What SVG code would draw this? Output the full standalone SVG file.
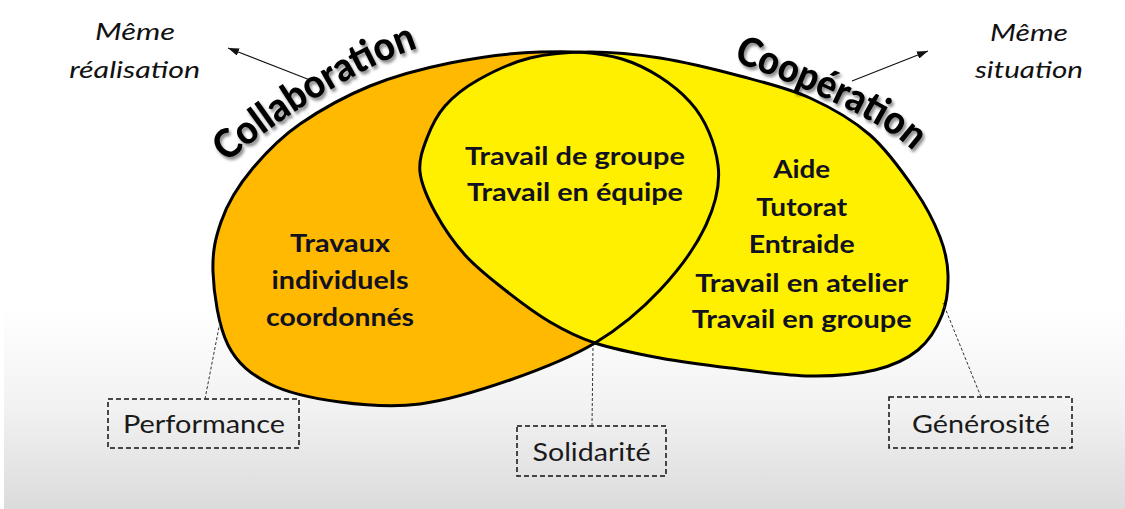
<svg xmlns="http://www.w3.org/2000/svg" xmlns:xlink="http://www.w3.org/1999/xlink" width="1125" height="509" viewBox="0 0 1125 509">
<defs>
<linearGradient id="bg" x1="0" y1="0" x2="0" y2="509" gradientUnits="userSpaceOnUse">
<stop offset="0" stop-color="#ffffff"/>
<stop offset="0.6" stop-color="#ffffff"/>
<stop offset="0.8" stop-color="#f2f2f2"/>
<stop offset="1" stop-color="#dbdbdb"/>
</linearGradient>
<filter id="shadow" x="-20%" y="-20%" width="140%" height="140%">
<feDropShadow dx="2" dy="3" stdDeviation="1.6" flood-color="#000" flood-opacity="0.45"/>
</filter>
<marker id="arr" viewBox="0 0 10 7" refX="10" refY="3.5" markerWidth="11" markerHeight="7.7" markerUnits="userSpaceOnUse" orient="auto">
<path d="M0,0 L10,3.5 L0,7 z" fill="#111"/>
</marker>
<path id="oPath" d="M213,272 C212.3,251 215.5,238 221,222 C227.5,203 239.5,184 253,168 C266.5,152 280.8,137.2 300,124 C319.2,110.8 345,96.2 370,86 C395,75.8 421.7,68.7 450,63 C478.3,57.3 511.7,52.8 540,52 C568.3,51.2 596,51 622,59 C648,67 673.7,84.2 690,102 C706.3,119.8 715.3,144.5 718,165 C720.7,185.5 715.7,204.2 706,225 C696.3,245.8 678.5,270.3 660,290 C641.5,309.7 620,328 595,343 C570,358 539.2,369.8 510,380 C480.8,390.2 448.3,400.3 420,404 C391.7,407.7 365,405.3 340,402 C315,398.7 288.7,393.5 270,384 C251.3,374.5 237.5,364 228,345 C218.5,326 213.7,293 213,272 Z"/>
<path id="yPath" d="M420,172 C418.67,159.67 422.83,149 427,138 C431.17,127 436.5,115.67 445,106 C453.5,96.33 463.83,88 478,80 C492.17,72 511.33,62.67 530,58 C548.67,53.33 568.33,52 590,52 C611.67,52 635,54 660,58 C685,62 715,69.33 740,76 C765,82.67 788.33,88.17 810,98 C831.67,107.83 852.5,119.67 870,135 C887.5,150.33 903.33,173 915,190 C926.67,207 934.5,222.83 940,237 C945.5,251.17 947.67,262 948,275 C948.33,288 947,302.5 942,315 C937,327.5 929.17,340.83 918,350 C906.83,359.17 893,365.67 875,370 C857,374.33 834.17,376.33 810,376 C785.83,375.67 755,371 730,368 C705,365 682.5,362.17 660,358 C637.5,353.83 613.33,349 595,343 C576.67,337 565,330.83 550,322 C535,313.17 519.17,301.17 505,290 C490.83,278.83 476.67,268 465,255 C453.33,242 442.5,225.83 435,212 C427.5,198.17 421.33,184.33 420,172 Z"/>
<path id="pColl" d="M227,163 C271.6,122.9 361.4,66.1 415,49"/>
<path id="pCoop" d="M733,61 Q875,113.5 913,151"/>
</defs>
<style>
.fill-o { fill: #FFB900; }
.fill-y { fill: #FFF000; }
.outline { fill: none; stroke: #000; stroke-width: 3; stroke-linejoin: round; }
.big { font-family: Lato, "Liberation Sans", sans-serif; font-weight: 700; font-size: 24px; fill: #111122; text-anchor: middle; }
.title { font-family: Lato, "Liberation Sans", sans-serif; font-weight: 900; font-size: 40px; fill: #000; filter: url(#shadow); }
.note { font-family: Lato, "Liberation Sans", sans-serif; font-style: italic; font-size: 23px; fill: #111; text-anchor: middle; }
.lbl { font-family: Lato, "Liberation Sans", sans-serif; font-size: 25px; fill: #1a1a1a; text-anchor: middle; }
.box { fill: none; stroke: #111; stroke-width: 1.5; stroke-dasharray: 5 3; }
.lead { fill: none; stroke: #333; stroke-width: 1; stroke-dasharray: 3 2; }
.arrow { fill: none; stroke: #111; stroke-width: 1.2; marker-end: url(#arr); }
</style>
<rect x="0" y="0" width="1125" height="509" fill="url(#bg)"/>
<rect x="0" y="0" width="4" height="509" fill="#ffffff"/>

<g id="collaboration">
<use xlink:href="#oPath" class="fill-o"/>
</g>
<g id="cooperation">
<use xlink:href="#yPath" class="fill-y"/>
</g>
<g id="outlines">
<use xlink:href="#oPath" class="outline"/>
<use xlink:href="#yPath" class="outline"/>
</g>

<g id="collaboration-label">
<text class="title"><textPath xlink:href="#pColl" startOffset="0" textLength="224" lengthAdjust="spacingAndGlyphs">Collaboration</textPath></text>
</g>
<g id="cooperation-label">
<text class="title"><textPath xlink:href="#pCoop" startOffset="0" textLength="202" lengthAdjust="spacingAndGlyphs">Coopération</textPath></text>
</g>

<g id="collaboration-only">
<text class="big" x="340" y="252" textLength="100" lengthAdjust="spacingAndGlyphs">Travaux</text>
<text class="big" x="340" y="289" textLength="137" lengthAdjust="spacingAndGlyphs">individuels</text>
<text class="big" x="340" y="326" textLength="148" lengthAdjust="spacingAndGlyphs">coordonnés</text>
</g>
<g id="intersection">
<text class="big" x="575" y="165" textLength="220" lengthAdjust="spacingAndGlyphs">Travail de groupe</text>
<text class="big" x="575" y="201" textLength="216" lengthAdjust="spacingAndGlyphs">Travail en équipe</text>
</g>
<g id="cooperation-only">
<text class="big" x="801.7" y="178" textLength="57" lengthAdjust="spacingAndGlyphs">Aide</text>
<text class="big" x="801.7" y="216" textLength="91" lengthAdjust="spacingAndGlyphs">Tutorat</text>
<text class="big" x="801.7" y="253" textLength="106" lengthAdjust="spacingAndGlyphs">Entraide</text>
<text class="big" x="801.7" y="291.5" textLength="213" lengthAdjust="spacingAndGlyphs">Travail en atelier</text>
<text class="big" x="801.7" y="328" textLength="220" lengthAdjust="spacingAndGlyphs">Travail en groupe</text>
</g>

<g id="meme-realisation">
<text class="note" x="135" y="40" textLength="80" lengthAdjust="spacingAndGlyphs">Même</text>
<text class="note" x="134.7" y="78" textLength="131" lengthAdjust="spacingAndGlyphs">réalisation</text>
</g>
<g id="meme-situation">
<text class="note" x="1029" y="40.5" textLength="78" lengthAdjust="spacingAndGlyphs">Même</text>
<text class="note" x="1029" y="78" textLength="108" lengthAdjust="spacingAndGlyphs">situation</text>
</g>

<g id="performance">
<rect class="box" x="108" y="399" width="191" height="49"/>
<text class="lbl" x="204" y="433" textLength="162" lengthAdjust="spacingAndGlyphs">Performance</text>
</g>
<g id="solidarite">
<rect class="box" x="517" y="426" width="149" height="50"/>
<text class="lbl" x="591.5" y="460.5" textLength="118" lengthAdjust="spacingAndGlyphs">Solidarité</text>
</g>
<g id="generosite">
<rect class="box" x="889" y="397" width="183" height="51"/>
<text class="lbl" x="981" y="433" textLength="138" lengthAdjust="spacingAndGlyphs">Générosité</text>
</g>

<g id="connectors">
<line class="arrow" x1="310" y1="80" x2="228" y2="48"/>
<line class="arrow" x1="852" y1="81" x2="928" y2="51"/>
<line class="lead" x1="205" y1="399" x2="220" y2="322"/>
<line class="lead" x1="592" y1="426" x2="593" y2="345"/>
<line class="lead" x1="981" y1="397" x2="943" y2="303"/>
</g>
</svg>
